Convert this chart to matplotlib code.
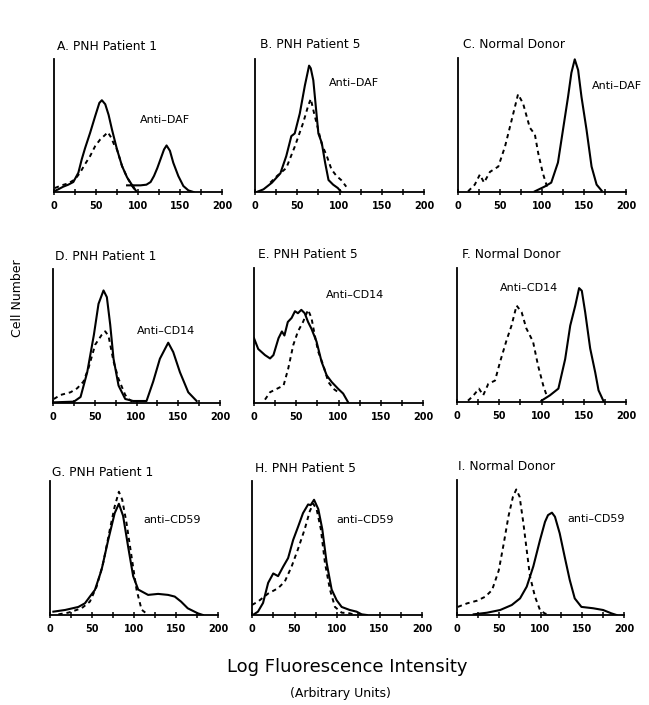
import numpy as np
import matplotlib
matplotlib.use("Agg")
import matplotlib.pyplot as plt

W, H = 649, 705
nan = np.nan

# ---------------- data (x: log fluorescence, y: % of axis height) ----------------
a_solid_x = [0, 5, 11, 17, 23, 29, 33, 37, 43, 49, 54, 57, 61, 65, 69, 75, 81, 87, 93, 98, nan,
             87, 95, 103, 110, 115, 119, 123, 127, 131, 134, 138, 142, 148, 154, 160, 166]
a_solid_y = [0.5, 2, 4, 5.5, 7.5, 14.5, 24.5, 33, 44.5, 57, 67, 69, 66, 58, 47, 32, 19.5, 11, 5.2, 0.5, nan,
             5, 5, 5, 5.5, 7.5, 12, 18, 25, 32, 35, 31, 22, 12, 4.5, 1.2, 0]
a_dash_x = [1, 9, 17, 25, 31, 37, 43, 49, 55, 61, 64, 68, 72, 75, 81, 87, 93, 97]
a_dash_y = [3, 5, 6.5, 9.5, 14.5, 21, 27, 34.5, 39.5, 43, 45, 41, 35, 32, 19.5, 11, 4.5, 1]

b_solid_x = [2, 10, 20, 30, 37, 43, 47, 53, 59, 64, 66, 69, 72, 75, 79, 83, 87, 92.5, 98, 102]
b_solid_y = [0, 2, 7, 14, 27, 42, 44, 59, 80, 95, 93, 84, 64, 44, 37, 22, 9, 5.5, 3, 0]
b_dash_x = [18, 26, 37, 47, 57, 63, 66, 70, 74, 79, 85, 90.5, 96.5, 102, 108]
b_dash_y = [7, 12, 18, 34, 52, 65, 70, 59, 49, 36, 27, 17, 12, 9, 4]

c_solid_x = [91.5, 103, 111, 119, 125, 131, 135, 139, 143, 147, 153, 159, 165, 171]
c_solid_y = [0.5, 4, 7, 22, 46.5, 71, 89, 99, 91, 71, 46.5, 19, 5.5, 1]
c_dash_x = [12, 20, 26, 31, 38, 48, 56, 64, 71.5, 77.5, 85.5, 91.5, 95.5, 101, 107]
c_dash_y = [0.5, 5.5, 13, 7, 15, 19, 34, 54, 73, 66, 48, 43, 29, 14, 2]

d_solid_x = [1, 25, 33, 41, 49, 54.5, 60.5, 64.5, 68.5, 72.5, 78.5, 86.5, 96, 112, 120, 128, 138, 144, 152, 162, 172]
d_solid_y = [0.5, 1, 4.5, 23, 51, 74, 84, 79, 58.5, 33, 13, 3, 1.5, 1.5, 16, 33, 45, 38, 23, 8, 1.5]
d_dash_x = [1, 9, 21, 29, 36.5, 42.5, 50.5, 58.5, 62.5, 66.5, 72.5, 78.5, 86.5, 90.5, 96]
d_dash_y = [3, 6, 8, 11, 16, 26, 43.5, 51, 53.5, 50, 31, 18, 6, 3, 0.5]

e_solid_x = [0, 5, 13, 19, 23, 29, 33, 36, 40, 44.5, 48.5, 52, 56, 60, 64, 68, 74, 80, 86, 92, 99.6, 105.5, 111.4]
e_solid_y = [48, 40, 35.5, 33, 35.5, 48, 53, 50, 60, 63, 68, 66.5, 69, 66.5, 60, 55, 45.5, 30.5, 20.5, 15.5, 10.5, 7, 0.5]
e_dash_x = [13, 19, 27, 35, 40.5, 46.5, 52, 58, 64, 68, 72, 76, 82, 88, 94, 102]
e_dash_y = [2.5, 8, 10.5, 13, 25.5, 43, 53, 60, 69, 63, 50, 38, 28, 15.5, 10.5, 7]

f_solid_x = [100, 110, 120, 128, 134, 140, 144.5, 147.7, 151.7, 157.6, 163.6, 167.5, 173.5]
f_solid_y = [1, 5, 10, 32, 57, 72, 85, 83, 67, 40, 22, 8.7, 0.5]
f_dash_x = [13, 19, 26, 31, 37, 45, 51, 58.6, 64.5, 70.5, 76.5, 82, 90, 96, 102, 106]
f_dash_y = [1, 4.5, 10, 5, 13.5, 16, 30, 46, 57, 72, 67, 55, 45, 27, 12.5, 5]

g_solid_x = [4, 18, 33.7, 41.6, 47.5, 53.5, 61.4, 69.3, 77, 82, 87, 93, 99, 105, 116.8, 128.7, 140.6, 148.5, 156, 164, 176, 182]
g_solid_y = [2.5, 3.75, 6, 8.75, 13.75, 18.75, 33.75, 56, 76, 83, 74, 51, 29, 19, 15, 15.75, 15, 13.75, 10, 5, 1.25, 0]
g_dash_x = [10, 21.8, 37.6, 47.5, 55.4, 63.4, 71.3, 77, 82, 86, 91, 97, 103, 109, 117]
g_dash_y = [0.5, 1.75, 5, 10, 21, 39, 64, 81, 92, 86, 69, 44, 19, 4, 0]

h_solid_x = [1, 7, 13, 19, 25, 30.7, 36.6, 42.5, 48.4, 54.3, 60, 66, 69, 73, 78, 82.7, 87.8, 93.7, 99.6, 105.5, 115, 123, 129, 135]
h_solid_y = [0, 2.5, 9, 24, 31, 29, 36, 42.5, 56, 66, 76, 82.5, 82, 86, 79, 64, 39, 19, 11, 6, 3.75, 2.5, 0.5, 0]
h_dash_x = [0, 7, 19, 30.7, 38.6, 46.5, 54, 62, 68, 72, 76, 81, 85.8, 91.7, 97.6, 105.5, 115, 121]
h_dash_y = [7.5, 10, 16, 20, 25, 36, 49, 64, 77.5, 83, 79, 64, 39, 19, 6, 1.75, 1.25, 0]

i_solid_x = [20, 36, 51.7, 65.6, 75.5, 83.5, 91.4, 99.4, 105.4, 109, 113.7, 117.3, 123, 129, 135, 141, 149, 163, 175, 185, 191]
i_solid_y = [0.5, 1.7, 3.7, 7.4, 12.3, 21, 36, 55.5, 69, 74, 75.8, 72.8, 60.5, 43, 26, 12.3, 6, 5, 3.7, 1.2, 0]
i_dash_x = [1, 12, 24, 34, 42, 50, 56, 61.6, 67, 71, 75, 79.5, 83.5, 87.5, 93.4, 99.4, 105, 111]
i_dash_y = [6, 8.6, 10.6, 13.6, 18.5, 33, 53, 73, 87.6, 93, 87.6, 68, 48, 28.4, 13.6, 3.7, 1.2, 0]

titles = ["A. PNH Patient 1", "B. PNH Patient 5", "C. Normal Donor",
          "D. PNH Patient 1", "E. PNH Patient 5", "F. Normal Donor",
          "G. PNH Patient 1", "H. PNH Patient 5", "I. Normal Donor"]
labels = ["Anti\u2013DAF", "Anti\u2013DAF", "Anti\u2013DAF",
          "Anti\u2013CD14", "Anti\u2013CD14", "Anti\u2013CD14",
          "anti\u2013CD59", "anti\u2013CD59", "anti\u2013CD59"]
xticks = [0, 25, 50, 75, 100, 125, 150, 175, 200]
xticklabels = ["0", "", "50", "", "100", "", "150", "", "200"]

solids = [(a_solid_x, a_solid_y), (b_solid_x, b_solid_y), (c_solid_x, c_solid_y),
          (d_solid_x, d_solid_y), (e_solid_x, e_solid_y), (f_solid_x, f_solid_y),
          (g_solid_x, g_solid_y), (h_solid_x, h_solid_y), (i_solid_x, i_solid_y)]
dashes = [(a_dash_x, a_dash_y), (b_dash_x, b_dash_y), (c_dash_x, c_dash_y),
          (d_dash_x, d_dash_y), (e_dash_x, e_dash_y), (f_dash_x, f_dash_y),
          (g_dash_x, g_dash_y), (h_dash_x, h_dash_y), (i_dash_x, i_dash_y)]

# ---------------- layout (pixels) ----------------
# (x at 0, x at 200, baseline, top)
boxes = [(54, 222, 192, 59), (255, 424, 192, 59), (458, 626, 192, 58),
         (53, 220, 403, 269), (254, 423, 403, 268), (457, 626, 402, 268),
         (50, 218, 615, 481), (252, 422, 615, 481), (457, 624, 615, 480)]
title_pos = [(57, 47), (260, 45), (463, 44), (55, 257), (258, 255), (462, 255),
             (52, 472), (255, 468), (458, 467)]
label_pos = [(102.6, 54.5), (87.8, 82), (160, 79), (100.4, 54), (85, 80), (50.7, 85),
             (111, 71), (99.6, 71), (132, 71)]

plt.rcParams['font.family'] = ['DejaVu Sans']
fig = plt.figure(figsize=(W / 100, H / 100), dpi=100)
fig.patch.set_facecolor('white')

for k in range(9):
    x0, x1, base, top = boxes[k]
    ax = fig.add_axes([x0 / W, 1 - base / H, (x1 - x0) / W, (base - top) / H])
    sx, sy = solids[k]
    dx, dy = dashes[k]
    ax.plot(sx, sy, color='black', lw=1.5, solid_joinstyle='round')
    ax.plot(dx, dy, color='black', lw=1.4, linestyle=(0, (2.2, 2.0)))
    ax.set_xlim(0, 200)
    ax.set_ylim(0, 100)
    for s in ['top', 'right']:
        ax.spines[s].set_visible(False)
    ax.spines['left'].set_linewidth(1.3)
    ax.spines['bottom'].set_linewidth(1.3)
    ax.set_yticks([])
    ax.set_xticks(xticks)
    ax.set_xticklabels(xticklabels, fontsize=7, fontweight='bold')
    ax.set_xticks([0, 200], minor=True)
    ax.tick_params(axis='x', which='major', direction='inout', length=5, width=1.1, pad=4)
    ax.tick_params(axis='x', which='minor', direction='inout', length=8, width=1.1)
    ax.patch.set_alpha(0)
    lx, ly = label_pos[k]
    ax.text(lx, ly, labels[k], fontsize=8, ha='left', va='center', clip_on=False)
    tx, ty = title_pos[k]
    fig.text(tx / W, 1 - ty / H, titles[k], fontsize=8.8, ha='left', va='center')

fig.text(18 / W, 1 - 298 / H, "Cell Number", fontsize=9, rotation=90, ha='center', va='center')
fig.text(347 / W, 1 - 667 / H, "Log Fluorescence Intensity", fontsize=13, ha='center', va='center')
fig.text(340 / W, 1 - 693 / H, "(Arbitrary Units)", fontsize=9, ha='center', va='center')

fig.savefig("out.png", dpi=100, facecolor='white')
